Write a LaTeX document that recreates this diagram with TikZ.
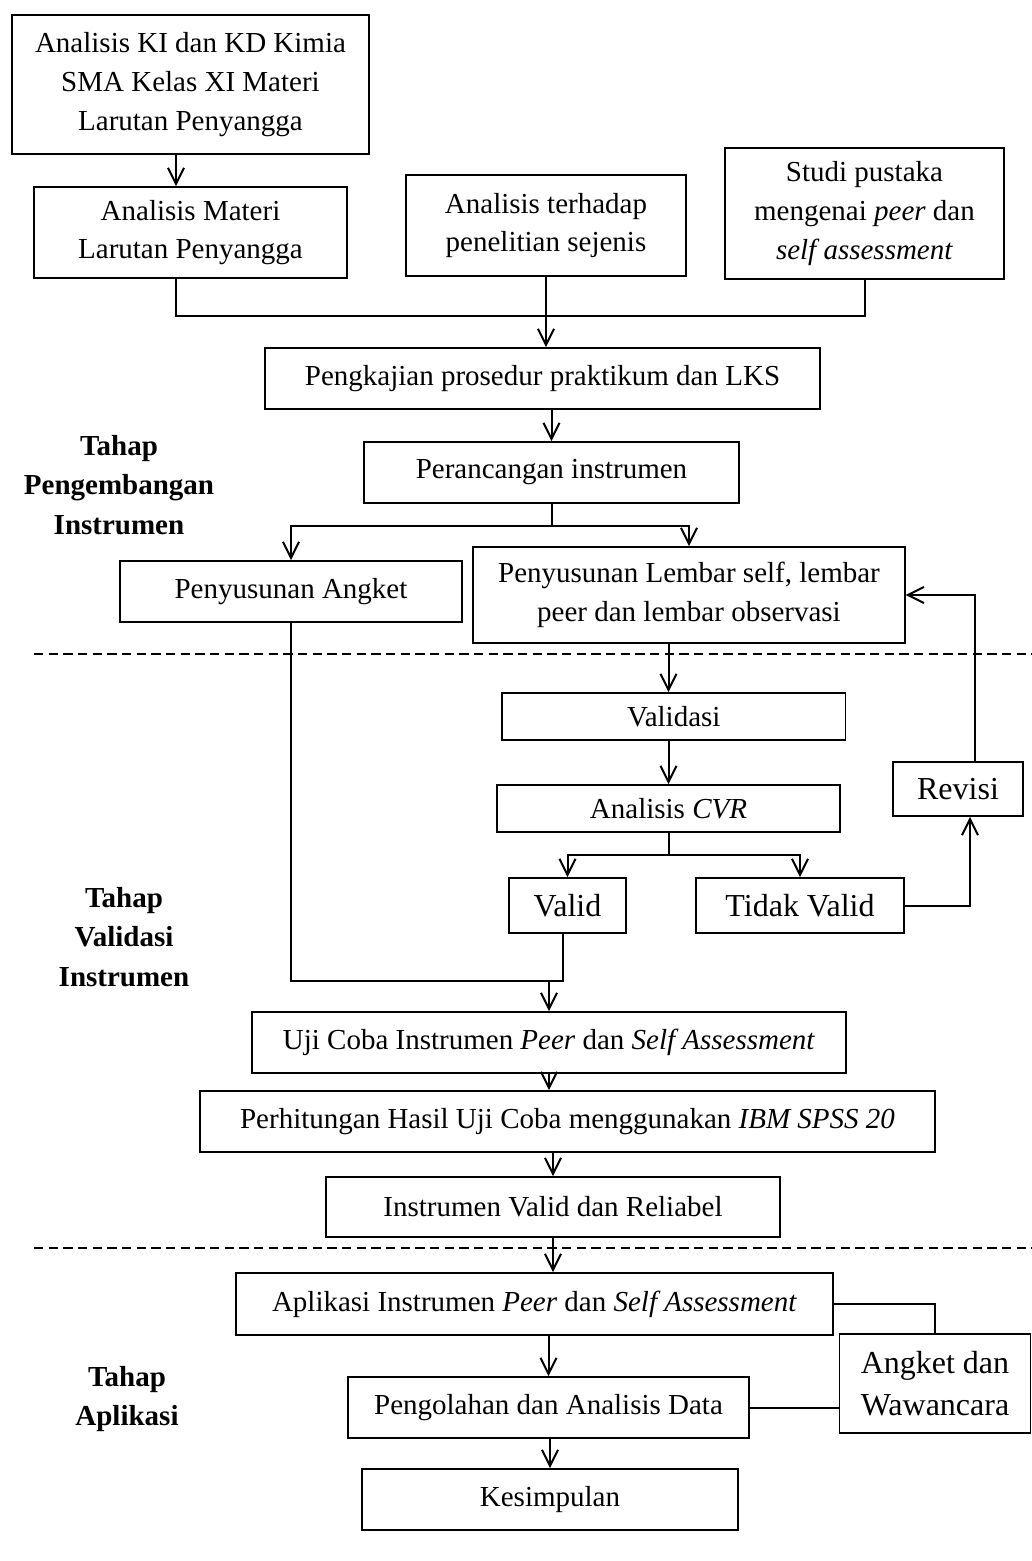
\documentclass[tikz,border=0pt]{standalone}
\usepackage{fontspec}
\setmainfont{Liberation Serif}
\usetikzlibrary{arrows.meta}

\begin{document}
\begin{tikzpicture}[x=0.75pt, y=-0.75pt,
		box/.style={draw, line width=1.4pt, inner sep=0pt, align=center, font=\fontsize{21.75}{29}\selectfont},
		bigbox/.style={box, font=\fontsize{24}{32}\selectfont},
		stage/.style={align=center, font=\fontsize{21.75}{29.5}\selectfont\bfseries},
		conn/.style={draw, line width=1.5pt},
		>={Straight Barb[length=12pt,width=12pt]}]
		\useasboundingbox (0,0) rectangle (1032,1561);
		\node[box, minimum width=267.75pt, minimum height=104.25pt] (kikd) at (190.5,84.5) {Analisis KI dan KD Kimia\\SMA Kelas XI Materi\\Larutan Penyangga};
		\node[box, minimum width=234.75pt, minimum height=68.25pt] (materi) at (190.5,232.5) {Analisis Materi\\Larutan Penyangga};
		\node[box, minimum width=210pt, minimum height=75.75pt] (terhadap) at (546,225.5) {Analisis terhadap\\penelitian sejenis};
		\node[box, minimum width=209.25pt, minimum height=98.25pt] (studi) at (864.5,213.5) {Studi pustaka\\mengenai \textit{peer} dan\\\textit{self assessment}};
		\node[box, minimum width=416.25pt, minimum height=45.75pt] (kajian) at (542.5,378.5) {Pengkajian prosedur praktikum dan LKS};
		\node[box, minimum width=281.25pt, minimum height=45.75pt] (rancang) at (551.5,472.5) {Perancangan instrumen};
		\node[box, minimum width=256.5pt, minimum height=45.75pt] (angket) at (291,591.5) {Penyusunan Angket};
		\node[box, minimum width=323.6pt, minimum height=72pt] (lembar) at (689,595) {Penyusunan Lembar self, lembar\\peer dan lembar observasi};
		\node[box, minimum width=257.6pt, minimum height=35.25pt] (validasi) at (673.75,716.5) {Validasi};
		\node[box, minimum width=257.25pt, minimum height=35.25pt] (cvr) at (668.5,808.5) {Analisis \textit{CVR}};
		\node[bigbox, minimum width=97.5pt, minimum height=40.5pt] (revisi) at (958,789) {Revisi};
		\node[bigbox, minimum width=87.75pt, minimum height=41.25pt] (valid) at (567.5,905.5) {Valid};
		\node[bigbox, minimum width=156pt, minimum height=41.25pt] (tidak) at (800,905.5) {Tidak Valid};
		\node[box, minimum width=445.5pt, minimum height=45.75pt] (uji) at (549,1042.5) {Uji Coba Instrumen \textit{Peer} dan \textit{Self Assessment}};
		\node[box, minimum width=551.25pt, minimum height=45.75pt] (hitung) at (567.5,1121.5) {Perhitungan Hasil Uji Coba menggunakan \textit{IBM SPSS 20}};
		\node[box, minimum width=340.5pt, minimum height=45pt] (valrel) at (553,1207) {Instrumen Valid dan Reliabel};
		\node[box, minimum width=447.75pt, minimum height=46.5pt] (aplikasi) at (534.5,1304) {Aplikasi Instrumen \textit{Peer} dan \textit{Self Assessment}};
		\node[bigbox, minimum width=143.25pt, minimum height=74.25pt] (wawan) at (935,1383.5) {Angket dan\\Wawancara};
		\node[box, minimum width=300.75pt, minimum height=45.75pt] (olah) at (548.5,1407.5) {Pengolahan dan Analisis Data};
		\node[box, minimum width=282.4pt, minimum height=45.75pt] (simpul) at (550,1499.5) {Kesimpulan};
		\node[stage] (tahap1) at (119,485) {Tahap\\Pengembangan\\Instrumen};
		\node[stage] (tahap2) at (124,937) {Tahap\\Validasi\\Instrumen};
		\node[stage] (tahap3) at (127,1399) {Tahap\\Aplikasi};
		\draw[conn, dash pattern=on 7pt off 4pt] (34,654) -- (1032,654);
		\draw[conn, dash pattern=on 7pt off 4pt] (34,1248) -- (1032,1248);
		\coordinate (merge) at (176,316);
		\draw[conn,->] (kikd.south -| merge) -- (materi.north -| merge);
		\draw[conn] (materi.south -| merge) -- (merge) -| (studi.south);
		\draw[conn,->] (terhadap.south) -- (terhadap.south |- kajian.north);
		\draw[conn,->] (kajian.south -| rancang) -- (rancang.north);
		\draw[conn,->] (rancang.south) -- ++(0,22) -| (angket.north);
		\draw[conn,->] (rancang.south) -- ++(0,22) -| (lembar.north);
		\draw[conn,->] (lembar.south -| cvr) -- (validasi.north -| cvr);
		\draw[conn,->] (validasi.south -| cvr) -- (cvr.north);
		\draw[conn,->] (cvr.south) -- ++(0,22) -| (valid.north);
		\draw[conn,->] (cvr.south) -- ++(0,22) -| (tidak.north);
		\draw[conn,->] (tidak.east) -| ([xshift=9pt]revisi.south);
		\draw[conn,->] ([xshift=13pt]revisi.north) |- (lembar.east);
		\coordinate (join) at (563,981);
		\draw[conn] (angket.south) |- (join) -- (join |- valid.south);
		\draw[conn,->] (uji.north |- join) -- (uji.north);
		\draw[conn,->] (uji.south) -- (uji.south |- hitung.north);
		\draw[conn,->] (hitung.south -| valrel) -- (valrel.north);
		\draw[conn,->] (valrel.south) -- (valrel.south |- aplikasi.north);
		\draw[conn,->] (aplikasi.south -| olah) -- (olah.north);
		\draw[conn,->] (olah.south -| simpul) -- (simpul.north);
		\draw[conn] (aplikasi.east) -| (wawan.north);
		\draw[conn] (olah.east) -- (olah.east -| wawan.west);
	\end{tikzpicture}
\end{document}
